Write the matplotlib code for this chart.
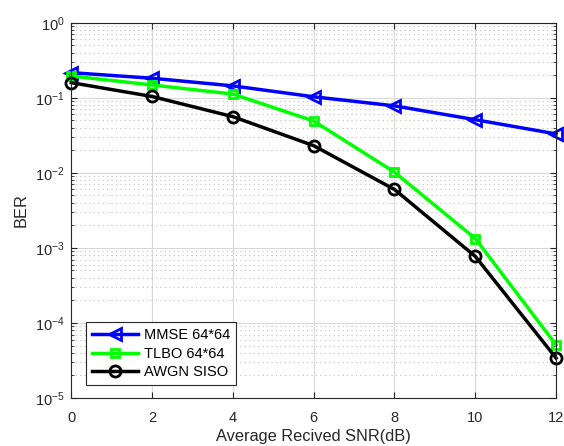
import numpy as np
import matplotlib
matplotlib.use('Agg')
import matplotlib.pyplot as plt
from matplotlib.ticker import LogLocator, NullFormatter

plt.rcParams['font.family'] = ['Liberation Sans', 'DejaVu Sans']

snr = [0, 2, 4, 6, 8, 10, 12]
mmse = [0.216, 0.182, 0.144, 0.103, 0.078, 0.051, 0.033]
tlbo = [0.195, 0.148, 0.112, 0.049, 0.0102, 0.00133, 5.1e-5]
awgn = [0.159, 0.104, 0.056, 0.023, 0.0060, 0.00077, 3.4e-5]

fig = plt.figure(figsize=(5.64, 4.46), dpi=100)
ax = fig.add_axes([0.1264, 0.1076, 0.8596, 0.8415])

ax.semilogy(snr, mmse, color='#0000ff', lw=2.5, marker='<', ms=9, mfc='none', mew=2,
            label='MMSE 64*64', clip_on=False)
ax.semilogy(snr, tlbo, color='#00ff00', lw=2.5, marker='s', ms=6, mfc='none', mew=2,
            label='TLBO 64*64', clip_on=False)
ax.semilogy(snr, awgn, color='black', lw=2.5, marker='o', ms=8, mfc='none', mew=2,
            label='AWGN SISO', clip_on=False)

ax.set_xlim(0, 12)
ax.set_ylim(1e-5, 1)
ax.set_xticks(range(0, 13, 2))
ax.yaxis.set_major_locator(LogLocator(base=10, numticks=10))
ax.yaxis.set_minor_locator(LogLocator(base=10, subs=np.arange(2, 10), numticks=20))
ax.yaxis.set_minor_formatter(NullFormatter())

ax.grid(True, which='major', color='#d9d9d9', lw=0.8, ls='-')
ax.grid(True, which='minor', axis='y', color='#bfbfbf', lw=0.8, ls=(0, (1, 3)))
ax.set_axisbelow(True)

ax.tick_params(which='both', direction='in', top=True, right=True, labelsize=10.5, colors='#262626')
ax.tick_params(axis='x', which='major', length=4, pad=9)
ax.tick_params(axis='y', which='major', length=4, pad=5)
ax.tick_params(which='minor', length=2)
for s in ax.spines.values():
    s.set_color('#262626')
    s.set_linewidth(0.8)

ax.set_xlabel('Average Recived SNR(dB)', fontsize=11.8, color='#262626', labelpad=3)
ax.set_ylabel('BER', fontsize=11.8, color='#262626', labelpad=4)

leg = ax.legend(loc='lower left', bbox_to_anchor=(0.03, 0.035), borderaxespad=0, fontsize=10.5,
                fancybox=False, edgecolor='#262626', framealpha=1, handlelength=3.2,
                borderpad=0.4, labelspacing=0.3, handletextpad=0.4)
leg.get_frame().set_linewidth(0.8)

fig.savefig('out.png', dpi=100)
